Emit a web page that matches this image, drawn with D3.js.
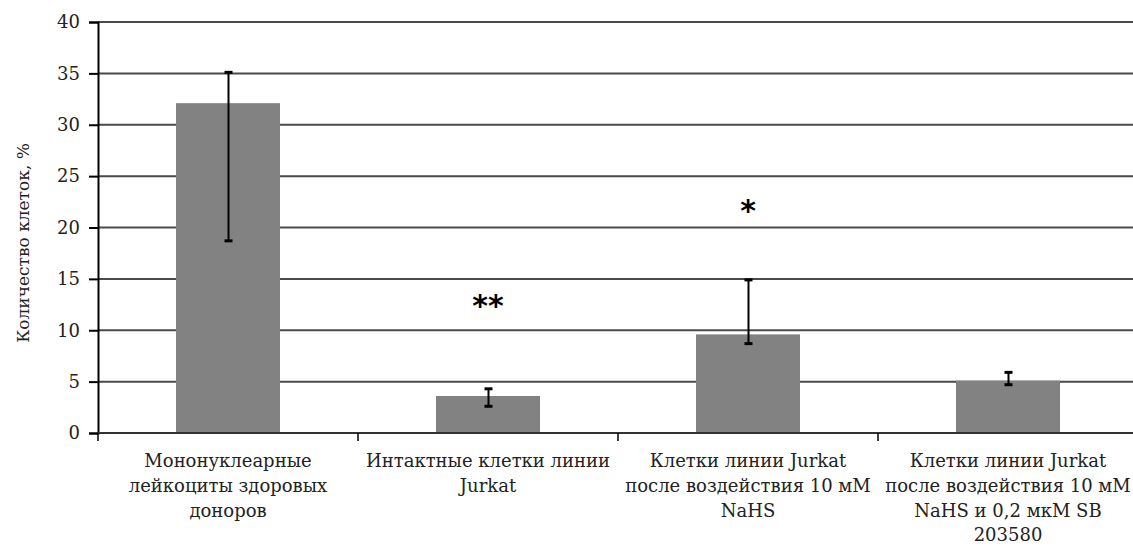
<!DOCTYPE html>
<html>
<head>
<meta charset="utf-8">
<script src="https://cdn.jsdelivr.net/npm/d3@7"></script>
<style>
  html, body { margin: 0; padding: 0; background: #fff; }
  svg { display: block; }
</style>
</head>
<body>
<svg id="chart" width="1133" height="549"></svg>
<script>
// Categories (multi-line labels)
const categories = [
  ["Мононуклеарные", "лейкоциты здоровых", "доноров"],
  ["Интактные клетки линии", "Jurkat"],
  ["Клетки линии Jurkat", "после воздействия 10 мМ", "NaHS"],
  ["Клетки линии Jurkat", "после воздействия 10 мМ", "NaHS и 0,2 мкМ SB", "203580"]
];
// Mean values, %
const values = [32.1, 3.6, 9.6, 5.1];
// Error bar ends, %
const errLow = [18.7, 2.6, 8.7, 4.7];
const errHigh = [35.1, 4.3, 14.9, 5.9];
// Significance marks and the level they sit at
const marks = ["", "**", "*", ""];
const markLevel = [0, 12.5, 21.7, 0];
// Y axis ticks
const yTicks = [0, 5, 10, 15, 20, 25, 30, 35, 40];

const serif = "DejaVu Serif";
const svg = d3.select("#chart");
const m = { left: 98, top: 22, bottom: 433, right: 1138 };

const x = d3.scaleBand()
  .domain(d3.range(categories.length))
  .range([m.left, m.right])
  .paddingInner(0.6)
  .paddingOuter(0.3);

const y = d3.scaleLinear().domain([0, 40]).range([m.bottom, m.top]);

// Horizontal gridlines
svg.append("g")
  .selectAll("line")
  .data(yTicks.filter(d => d > 0))
  .join("line")
  .attr("x1", m.left).attr("x2", 1133)
  .attr("y1", d => y(d)).attr("y2", d => y(d))
  .attr("stroke", "#4a4a4a").attr("stroke-width", 2);

// Bars
svg.append("g")
  .selectAll("rect")
  .data(values)
  .join("rect")
  .attr("x", (d, i) => x(i))
  .attr("width", x.bandwidth())
  .attr("y", d => y(d))
  .attr("height", d => y(0) - y(d))
  .attr("fill", "#828282");

// Error bars with short caps
const eb = svg.append("g").attr("stroke", "#000");
values.forEach((v, i) => {
  const cx = Math.round(x(i) + x.bandwidth() / 2) + 0.5;
  eb.append("line")
    .attr("x1", cx).attr("x2", cx)
    .attr("y1", y(errLow[i])).attr("y2", y(errHigh[i]))
    .attr("stroke-width", 2);
  [errLow[i], errHigh[i]].forEach(e => {
    eb.append("line")
      .attr("x1", cx - 4).attr("x2", cx + 4)
      .attr("y1", y(e)).attr("y2", y(e))
      .attr("stroke-width", 3);
  });
});

// Significance asterisks
svg.append("g")
  .selectAll("text")
  .data(marks)
  .join("text")
  .attr("x", (d, i) => x(i) + x.bandwidth() / 2)
  .attr("y", (d, i) => y(markLevel[i]) + 11)
  .attr("text-anchor", "middle")
  .attr("font-family", "DejaVu Sans")
  .attr("font-size", 30)
  .attr("font-weight", "bold")
  .attr("fill", "#000")
  .text(d => d);

// Y axis
const yAxis = svg.append("g")
  .attr("transform", `translate(${m.left},0)`)
  .call(d3.axisLeft(y).tickValues(yTicks).tickSize(9).tickPadding(9));
yAxis.attr("font-family", serif).attr("font-size", 18);
yAxis.select(".domain").attr("stroke", "#000").attr("stroke-width", 2);
yAxis.selectAll(".tick line").attr("stroke", "#000").attr("stroke-width", 2);
yAxis.selectAll(".tick text").attr("fill", "#222");

// X baseline and category separators
const xAxisG = svg.append("g");
xAxisG.append("line")
  .attr("x1", m.left).attr("x2", 1133)
  .attr("y1", y(0)).attr("y2", y(0))
  .attr("stroke", "#333").attr("stroke-width", 2);
const step = x.step();
xAxisG.selectAll("line.sep")
  .data(d3.range(categories.length + 1))
  .join("line")
  .attr("class", "sep")
  .attr("x1", i => x(0) - x.paddingOuter() * step + i * step)
  .attr("x2", i => x(0) - x.paddingOuter() * step + i * step)
  .attr("y1", y(0)).attr("y2", y(0) + 8)
  .attr("stroke", "#000").attr("stroke-width", 1.5);

// Category labels
categories.forEach((lines, i) => {
  const cx = x(i) + x.bandwidth() / 2;
  const t = svg.append("text")
    .attr("x", cx)
    .attr("y", 467)
    .attr("text-anchor", "middle")
    .attr("font-family", serif)
    .attr("font-size", 18)
    .attr("fill", "#222");
  lines.forEach((ln, k) => {
    t.append("tspan")
      .attr("x", cx)
      .attr("dy", k === 0 ? 0 : 24.8)
      .text(ln);
  });
});

// Y axis title
svg.append("text")
  .attr("transform", "translate(29,243) rotate(-90)")
  .attr("text-anchor", "middle")
  .attr("font-family", serif)
  .attr("font-size", 17)
  .attr("fill", "#222")
  .text("Количество клеток, %");
</script>
</body>
</html>
